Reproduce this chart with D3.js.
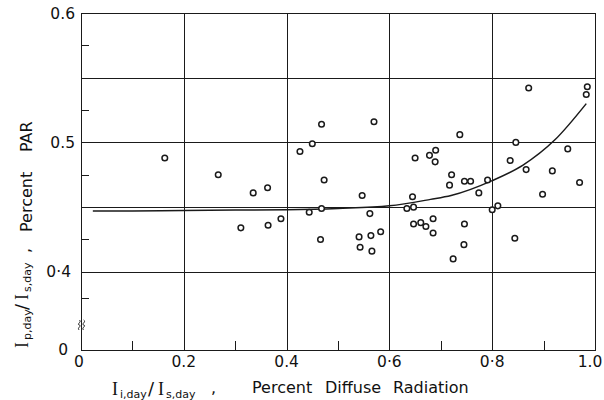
<!DOCTYPE html>
<html>
<head>
<meta charset="utf-8">
<script src="https://cdn.jsdelivr.net/npm/d3@7"></script>
<style>
  html, body { margin: 0; padding: 0; background: #fff; }
  svg { display: block; }
  text { fill: #111; }
</style>
</head>
<body>
<svg id="chart" width="604" height="400"></svg>
<script>
// Daily fraction of diffuse radiation (x) vs. fraction of PAR (y)
const diffuseFrac = [
  0.163, 0.468, 0.570, 0.450, 0.426, 0.267, 0.473, 0.335, 0.363, 0.547,
  0.311, 0.364, 0.389, 0.444, 0.468, 0.466, 0.562, 0.541, 0.564, 0.583,
  0.543, 0.566, 0.871, 0.985, 0.983, 0.737, 0.846, 0.947, 0.650, 0.678,
  0.690, 0.689, 0.835, 0.721, 0.866, 0.917, 0.717, 0.746, 0.758, 0.791,
  0.774, 0.970, 0.645, 0.898, 0.634, 0.647, 0.647, 0.661, 0.671, 0.685,
  0.685, 0.746, 0.745, 0.724, 0.800, 0.811, 0.844
];
const parFrac = [
  0.488, 0.514, 0.516, 0.499, 0.493, 0.475, 0.471, 0.461, 0.465, 0.459,
  0.434, 0.436, 0.441, 0.446, 0.449, 0.425, 0.445, 0.427, 0.428, 0.431,
  0.419, 0.416, 0.542, 0.543, 0.537, 0.506, 0.500, 0.495, 0.488, 0.490,
  0.494, 0.485, 0.486, 0.475, 0.479, 0.478, 0.467, 0.470, 0.470, 0.471,
  0.461, 0.469, 0.458, 0.460, 0.449, 0.450, 0.437, 0.438, 0.435, 0.441,
  0.430, 0.437, 0.421, 0.410, 0.448, 0.451, 0.426
];

// Fitted trend line
const fitX = [0.023, 0.1, 0.2, 0.3, 0.4, 0.5, 0.6, 0.68, 0.72, 0.8, 0.86, 0.922, 0.983];
const fitY = [0.447, 0.4471, 0.4474, 0.4477, 0.448, 0.449, 0.451, 0.456, 0.459, 0.4705, 0.4825, 0.502, 0.530];

// Axis ticks and labels
const xTickVals   = [0, 0.2, 0.4, 0.6, 0.8, 1.0];
const xTickLabels = ["0", "0.2", "0.4", "0·6", "0·8", "1.0"];
const xMinorTicks = [0.1, 0.3, 0.5, 0.7, 0.9];
const xGridVals   = [0.2, 0.4, 0.6, 0.8];
const yTickVals   = [0.4, 0.5, 0.6];
const yTickLabels = ["0·4", "0.5", "0.6"];
const yMinorTicks = [0.38, 0.425, 0.475, 0.525, 0.575];
const yGridVals   = [0.4, 0.45, 0.5, 0.55];
const yFloor = 0.34;          // axis is broken below this value; bottom labelled 0
const yFloorLabel = "0";

(function draw() {
  const svg = d3.select("#chart");
  const pl = 81, pr = 595, pt = 13, pb = 349.5;

  const x = d3.scaleLinear().domain([0, 1]).range([pl, pr]);
  const y = d3.scaleLinear().domain([yFloor, 0.6]).range([pb, pt]);

  const ink = "#1a1a1a";

  // grid
  const g = svg.append("g").attr("stroke", ink).attr("stroke-width", 1).attr("shape-rendering", "crispEdges");
  g.selectAll(".gx").data(xGridVals).join("line")
    .attr("x1", d => Math.round(x(d)) + 0.5).attr("x2", d => Math.round(x(d)) + 0.5)
    .attr("y1", pt).attr("y2", pb);
  g.selectAll(".gy").data(yGridVals).join("line")
    .attr("x1", pl).attr("x2", pr)
    .attr("y1", d => Math.round(y(d)) + 0.5).attr("y2", d => Math.round(y(d)) + 0.5);

  // frame
  g.append("rect")
    .attr("x", pl + 0.5).attr("y", pt + 0.5)
    .attr("width", pr - pl).attr("height", Math.round(pb - pt))
    .attr("fill", "none");

  // minor ticks
  g.selectAll(".mx").data(xMinorTicks).join("line")
    .attr("x1", d => Math.round(x(d)) + 0.5).attr("x2", d => Math.round(x(d)) + 0.5)
    .attr("y1", pb).attr("y2", pb - 9);
  g.selectAll(".my").data(yMinorTicks).join("line")
    .attr("x1", pl).attr("x2", pl + 8)
    .attr("y1", d => Math.round(y(d)) + 0.5).attr("y2", d => Math.round(y(d)) + 0.5);

  // axis break mark
  const bx = pl + 0.5, by = 325;
  [-2.2, 2.2].forEach(dx => {
    svg.append("path")
      .attr("d", `M${bx + dx},${by - 5} c3,2 -3,4 0,5 c3,1 -3,3 0,5`)
      .attr("fill", "none").attr("stroke", ink).attr("stroke-width", 1);
  });

  // tick labels
  const tickFont = "'DejaVu Sans', sans-serif";
  const xShift = [-2, 0, 0, 0, 0, -5];
  svg.selectAll(".xl").data(xTickVals).join("text")
    .attr("x", (d, i) => x(d) + xShift[i]).attr("y", 367)
    .attr("text-anchor", "middle")
    .attr("font-family", tickFont).attr("font-size", 15.5)
    .text((d, i) => xTickLabels[i]);
  svg.selectAll(".yl").data(yTickVals).join("text")
    .attr("x", (d, i) => i === 0 ? 71 : 75).attr("y", d => y(d) + 5.5)
    .attr("text-anchor", "end")
    .attr("font-family", tickFont).attr("font-size", 15.5)
    .text((d, i) => yTickLabels[i]);
  svg.append("text")
    .attr("x", 68).attr("y", y(yFloor) + 5.5)
    .attr("text-anchor", "end")
    .attr("font-family", tickFont).attr("font-size", 15.5)
    .text(yFloorLabel);

  // fitted line
  const line = d3.line().x(d => x(d[0])).y(d => y(d[1])).curve(d3.curveMonotoneX);
  svg.append("path")
    .datum(fitX.map((v, i) => [v, fitY[i]]))
    .attr("d", line)
    .attr("fill", "none").attr("stroke", ink).attr("stroke-width", 1.5);

  // observations
  svg.append("g").selectAll("circle")
    .data(diffuseFrac.map((v, i) => [v, parFrac[i]]))
    .join("circle")
    .attr("cx", d => x(d[0])).attr("cy", d => y(d[1]))
    .attr("r", 2.8)
    .attr("fill", "#fff").attr("stroke", ink).attr("stroke-width", 1.5);

  // axis titles
  function mathLabel(sel, pieces) {
    pieces.forEach(p => {
      sel.append("tspan")
        .attr("x", p.x).attr("y", p.y)
        .attr("font-family", p.serif ? "'Liberation Serif', serif" : "'DejaVu Sans', sans-serif")
        .attr("font-size", p.size)
        .text(p.t);
    });
  }

  const xt = svg.append("text");
  mathLabel(xt, [
    { t: "I", x: 112, y: 395, size: 18, serif: true },
    { t: "i,day", x: 120, y: 398, size: 11 },
    { t: "/", x: 148, y: 395, size: 18 },
    { t: "I", x: 158, y: 395, size: 18, serif: true },
    { t: "s,day", x: 166, y: 398, size: 11 },
    { t: ",", x: 211, y: 393, size: 16 },
    { t: "Percent", x: 252, y: 393, size: 16 },
    { t: "Diffuse", x: 325, y: 393, size: 16 },
    { t: "Radiation", x: 393, y: 393, size: 16 }
  ]);

  const yt = svg.append("text").attr("transform", "translate(0,348) rotate(-90)");
  mathLabel(yt, [
    { t: "I", x: 0, y: 28, size: 18, serif: true },
    { t: "p,day", x: 8, y: 31, size: 11 },
    { t: "/", x: 38, y: 28, size: 18 },
    { t: "I", x: 48, y: 28, size: 18, serif: true },
    { t: "s,day", x: 56, y: 31, size: 11 },
    { t: ",", x: 95, y: 30, size: 16 },
    { t: "Percent", x: 116, y: 32, size: 16 },
    { t: "PAR", x: 196, y: 32, size: 16 }
  ]);
})();
</script>
</body>
</html>
